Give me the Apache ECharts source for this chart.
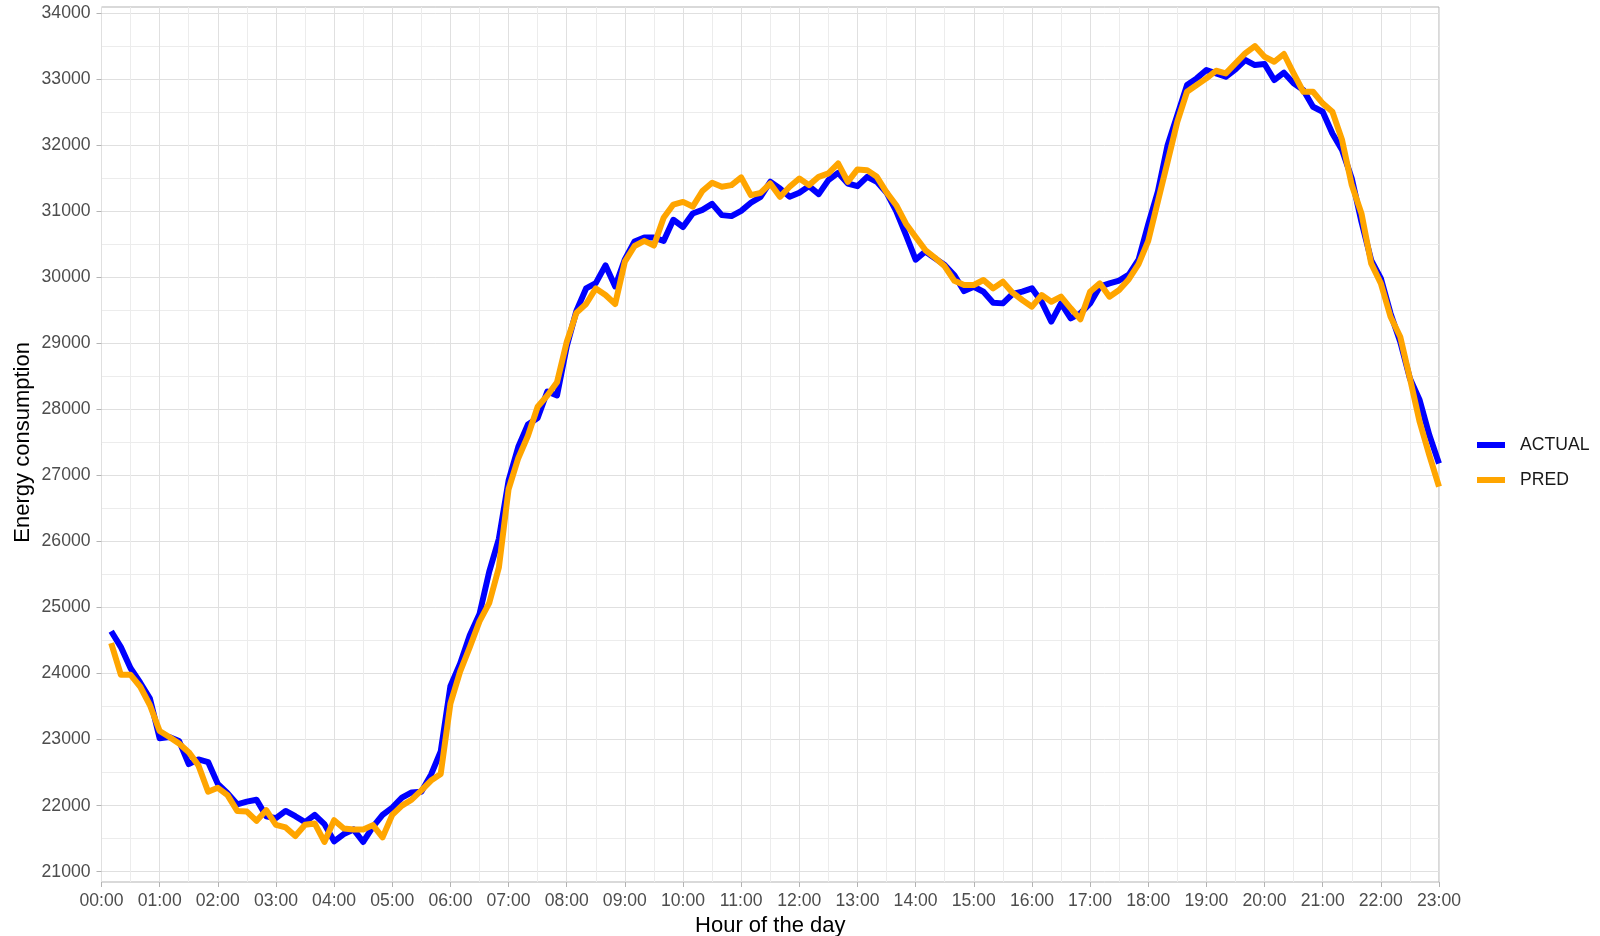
<!DOCTYPE html>
<html>
<head>
<meta charset="utf-8">
<script src="https://cdn.jsdelivr.net/npm/echarts@6/dist/echarts.min.js"></script>
<style>
html,body{margin:0;padding:0;background:#fff;}
#chart{width:1600px;height:936px;}
</style>
</head>
<body>
<div id="chart"></div>
<script>
// 10-minute samples from 00:10 to 23:00
const hourLabels = ["00:00","01:00","02:00","03:00","04:00","05:00","06:00","07:00","08:00","09:00","10:00","11:00","12:00","13:00","14:00","15:00","16:00","17:00","18:00","19:00","20:00","21:00","22:00","23:00"];
const yTicks = [21000,22000,23000,24000,25000,26000,27000,28000,29000,30000,31000,32000,33000,34000];

const actual = [
24640,24400,24080,23860,23620,23020,23040,22980,22630,22700,22660,22330,22190,22020,22060,22090,21840,21810,21920,21840,
21750,21860,21720,21460,21570,21640,21450,21680,21860,21970,22120,22200,22210,22470,22820,23810,24150,24580,24900,25540,
26040,26920,27430,27770,27870,28270,28210,28950,29490,29830,29910,30180,29860,30270,30540,30600,30600,30550,30870,30760,
30965,31020,31110,30940,30925,31005,31127,31217,31445,31344,31217,31278,31379,31258,31470,31581,31419,31379,31520,31445,
31280,31000,30640,30265,30390,30285,30185,30030,29790,29855,29780,29614,29604,29746,29781,29831,29629,29327,29604,29377,
29453,29604,29857,29907,29950,30040,30265,30800,31300,32000,32455,32909,33010,33136,33086,33035,33146,33288,33212,33227,
32985,33096,32935,32834,32581,32505,32177,31925,31496,30840,30260,29982,29452,29023,28468,28140,27610,27181
];
const pred = [
24460,23980,23980,23800,23520,23130,23040,22940,22810,22610,22210,22270,22160,21920,21910,21770,21930,21710,21670,21540,
21710,21730,21450,21780,21655,21640,21640,21705,21520,21860,22000,22090,22230,22380,22480,23545,24030,24400,24790,25065,
25605,26790,27260,27600,28040,28210,28410,29020,29460,29595,29830,29730,29595,30236,30473,30550,30480,30900,31100,31140,
31070,31305,31430,31369,31394,31510,31243,31278,31419,31217,31369,31495,31394,31520,31571,31722,31445,31631,31621,31520,
31285,31090,30810,30610,30411,30295,30165,29945,29882,29882,29958,29831,29932,29766,29655,29554,29730,29629,29705,29529,
29362,29781,29907,29705,29806,29970,30197,30550,31150,31748,32354,32808,32909,33010,33126,33086,33237,33389,33500,33338,
33262,33379,33086,32808,32808,32632,32505,32076,31395,30966,30209,29906,29401,29099,28468,27812,27307,26828
];
const stepMinutes = 10;
const minutesOfDay = actual.map((_, i) => (i + 1) * stepMinutes);

const FONT = "'Liberation Sans', Arial, sans-serif";
const chart = echarts.init(document.getElementById('chart'), null, {renderer: 'canvas'});
const xMax = (hourLabels.length - 1) * 60;

chart.setOption({
  animation: false,
  backgroundColor: '#ffffff',
  textStyle: {fontFamily: FONT},
  grid: [
    {left: 101.5, right: 161, top: 7, bottom: 54, show: true, borderColor: '#b3b3b3', borderWidth: 1,
     backgroundColor: 'transparent', containLabel: false, outerBoundsMode: 'none'},
    {left: 101.5, right: 161, top: 13, bottom: 64.3, containLabel: false, outerBoundsMode: 'none'}
  ],
  xAxis: [
    {
      gridIndex: 0, type: 'value', min: 0, max: xMax, interval: 60,
      name: 'Hour of the day', nameLocation: 'middle', nameGap: 32,
      nameTextStyle: {fontSize: 22, color: '#000', fontFamily: FONT},
      axisLine: {show: false},
      axisTick: {show: true, length: 5, lineStyle: {color: '#b3b3b3', width: 1}},
      axisLabel: {fontSize: 17.6, color: '#4d4d4d', margin: 10, fontFamily: FONT,
        formatter: v => hourLabels[Math.round(v / 60)]},
      splitLine: {show: true, lineStyle: {color: '#e0e0e0', width: 1}},
      minorTick: {show: false, splitNumber: 2},
      minorSplitLine: {show: true, lineStyle: {color: '#ececec', width: 1}}
    },
    {gridIndex: 1, type: 'value', min: 0, max: xMax, show: false}
  ],
  yAxis: [
    {gridIndex: 0, type: 'value', show: false, splitLine: {show: false}},
    {
      gridIndex: 1, type: 'value', min: yTicks[0], max: yTicks[yTicks.length - 1], interval: 1000,
      name: 'Energy consumption', nameLocation: 'middle', nameGap: 68, nameRotate: 90,
      nameMoveOverlap: false,
      nameTextStyle: {fontSize: 22, color: '#000', fontFamily: FONT},
      axisLine: {show: false},
      axisTick: {show: true, length: 5, lineStyle: {color: '#b3b3b3', width: 1}},
      axisLabel: {fontSize: 17.6, color: '#4d4d4d', margin: 11, fontFamily: FONT,
        formatter: v => String(v)},
      splitLine: {show: true, lineStyle: {color: '#e0e0e0', width: 1}},
      minorTick: {show: false, splitNumber: 2},
      minorSplitLine: {show: true, lineStyle: {color: '#ececec', width: 1}}
    }
  ],
  legend: {
    orient: 'vertical', left: 1472, top: 429,
    icon: 'rect', itemWidth: 28, itemHeight: 6, itemGap: 13,
    textStyle: {fontSize: 17.6, color: '#1a1a1a', fontFamily: FONT, padding: [0, 0, 0, 10], lineHeight: 22},
    data: ['ACTUAL', 'PRED']
  },
  series: [
    {
      name: 'ACTUAL', type: 'line', xAxisIndex: 1, yAxisIndex: 1,
      showSymbol: false, symbol: 'none', color: '#0000ff',
      lineStyle: {color: '#0000ff', width: 6, join: 'round'},
      data: minutesOfDay.map((m, i) => [m, actual[i]])
    },
    {
      name: 'PRED', type: 'line', xAxisIndex: 1, yAxisIndex: 1,
      showSymbol: false, symbol: 'none', color: '#ffa500',
      lineStyle: {color: '#ffa500', width: 6, join: 'round'},
      data: minutesOfDay.map((m, i) => [m, pred[i]])
    }
  ]
});
</script>
</body>
</html>
